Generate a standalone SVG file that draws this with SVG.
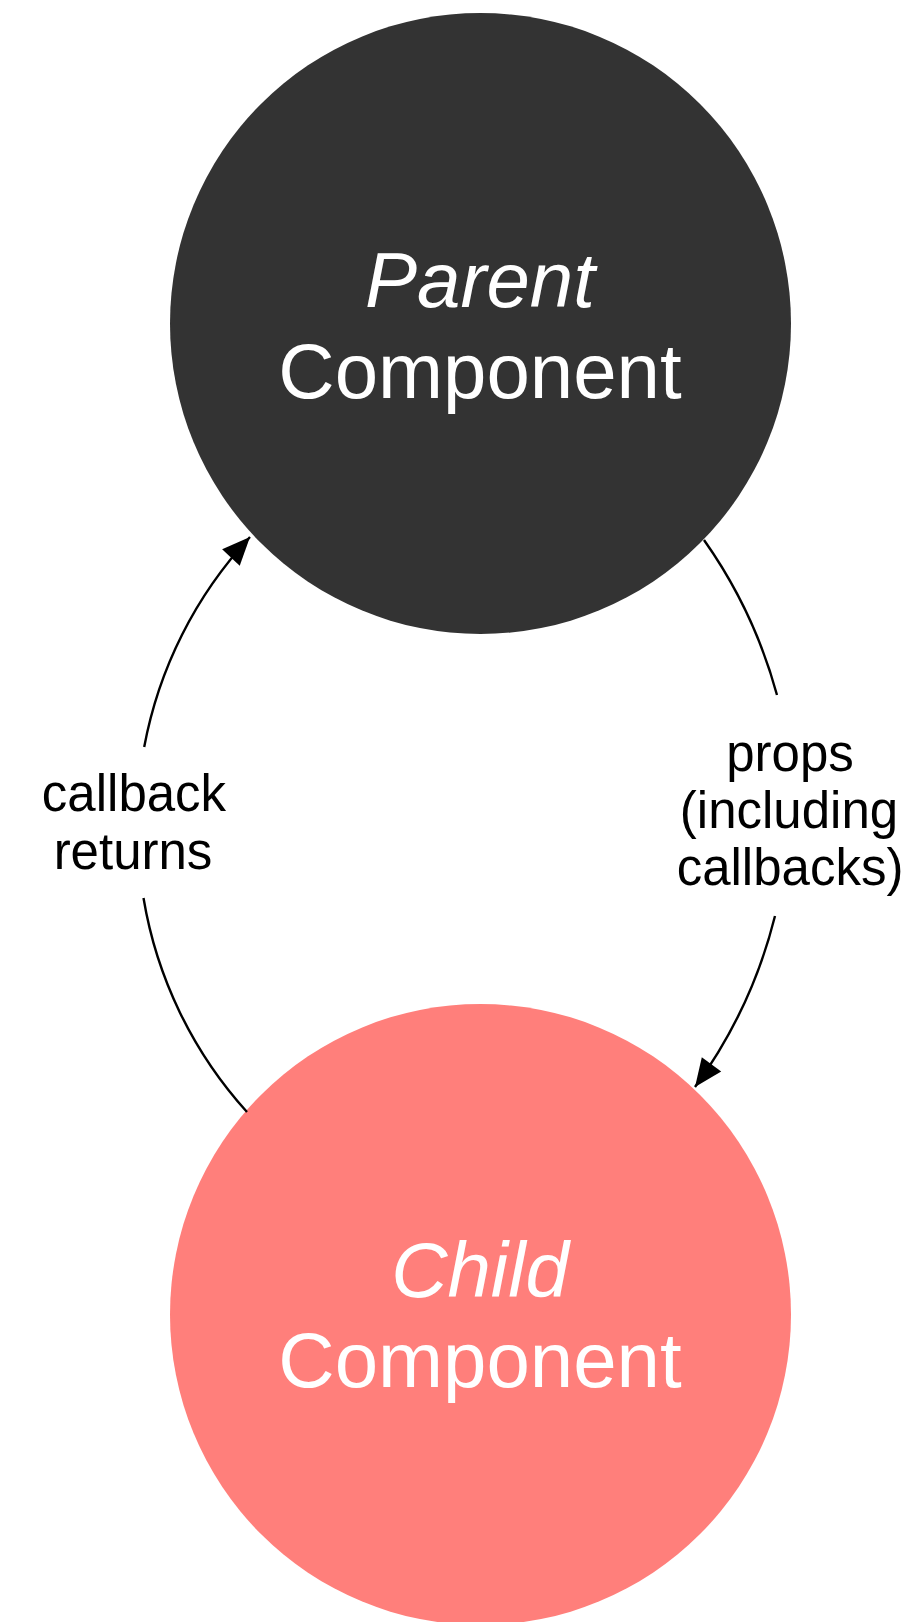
<svg xmlns="http://www.w3.org/2000/svg" width="920" height="1622" viewBox="0 0 920 1622">
  <style>
    .node-text { font-family: "Liberation Sans", Arial, Helvetica, sans-serif; font-size: 78px; fill: #ffffff; text-anchor: middle; }
    .italic { font-style: italic; }
    .label { font-family: "Liberation Sans", Arial, Helvetica, sans-serif; font-size: 51px; fill: #000000; text-anchor: middle; }
    .edge { fill: none; stroke: #000000; stroke-width: 2.4; }
  </style>
  <defs>
    <marker id="arrow" markerUnits="userSpaceOnUse" viewBox="-30 -14 32 28" refX="0" refY="0" markerWidth="32" markerHeight="28" orient="auto">
      <path d="M 0 0 L -28 -12 L -28 12 Z" fill="#000000"/>
    </marker>
  </defs>
  <rect width="920" height="1622" fill="#ffffff"/>
  <g id="parent">
    <circle cx="480.5" cy="323.5" r="310.5" fill="#333333"/>
    <text class="node-text italic" x="480" y="307">Parent</text>
    <text class="node-text" x="480" y="398">Component</text>
  </g>
  <g id="child">
    <circle cx="480.5" cy="1314.5" r="310.5" fill="#FF7F7B"/>
    <text class="node-text italic" x="480" y="1297">Child</text>
    <text class="node-text" x="480" y="1387">Component</text>
  </g>
  <g id="connectors">
    <path class="edge" d="M 704 540 A 492 492 0 0 1 777 695"/>
    <path class="edge" d="M 775 916 A 492 492 0 0 1 695 1087" marker-end="url(#arrow)"/>
    <path class="edge" d="M 247 1112 A 422 422 0 0 1 143.5 898"/>
    <path class="edge" d="M 144.2 747 A 422 422 0 0 1 250 537" marker-end="url(#arrow)"/>
  </g>
  <g id="labels">
    <text class="label" x="134" y="811">callback</text>
    <text class="label" x="133" y="869">returns</text>
    <text class="label" x="790" y="771">props</text>
    <text class="label" x="789" y="828">(including</text>
    <text class="label" x="790" y="885">callbacks)</text>
  </g>
</svg>
